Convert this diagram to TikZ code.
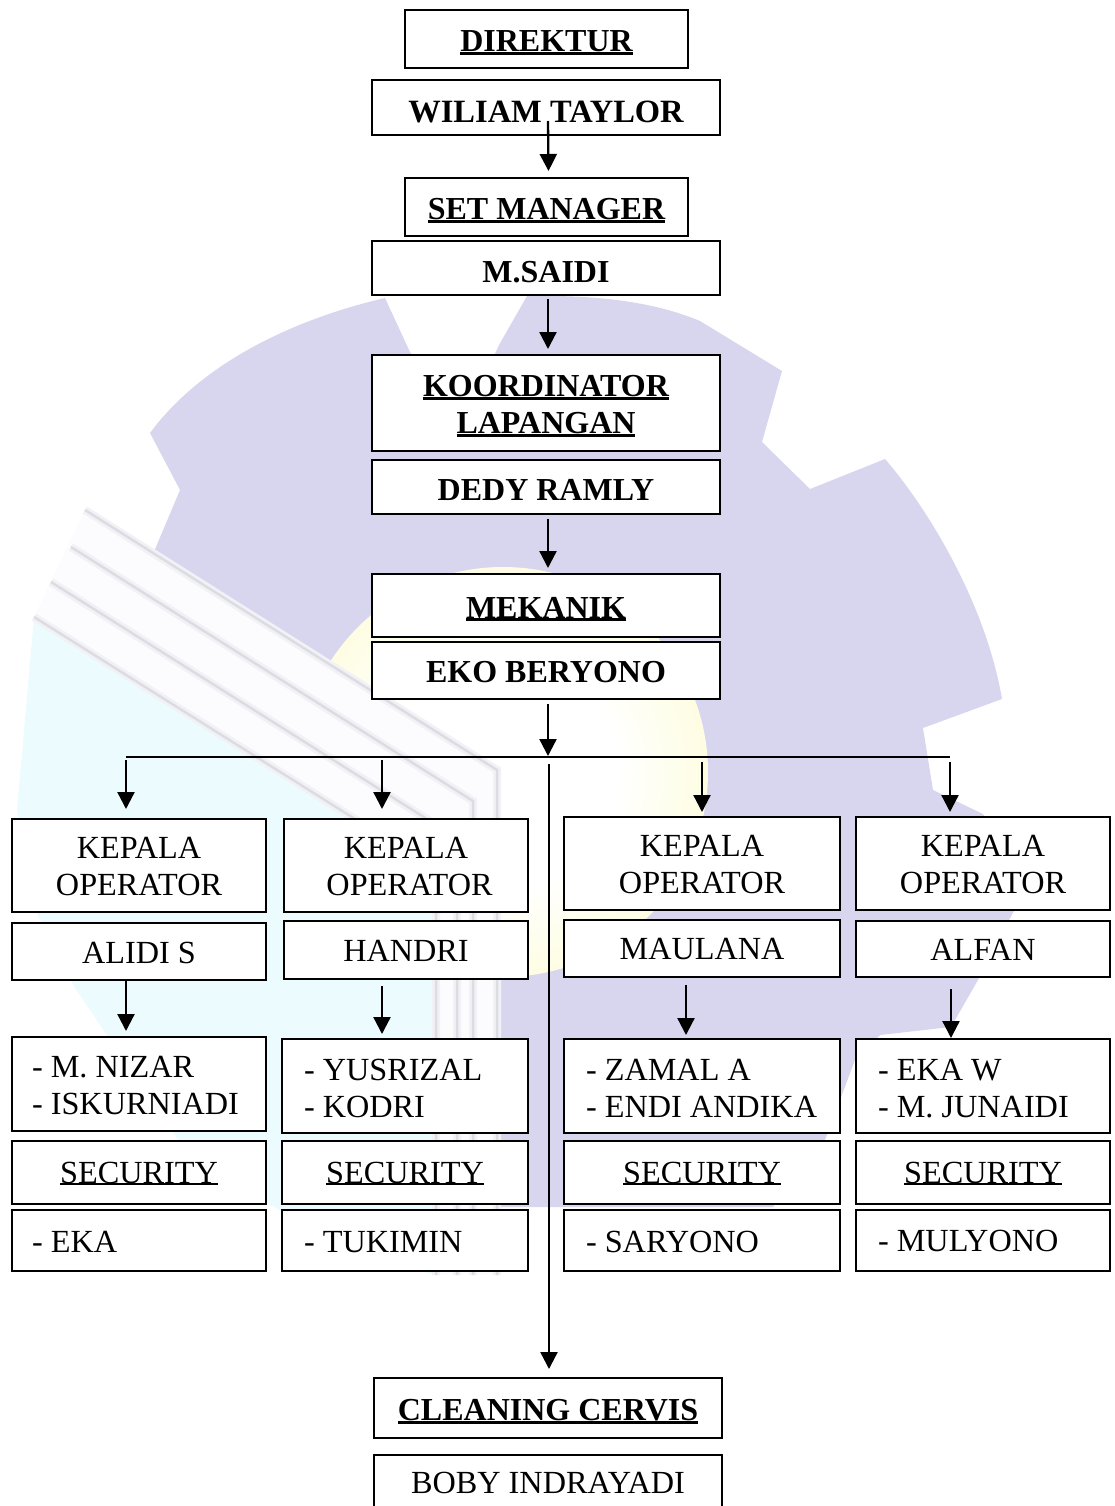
\documentclass[tikz,border=0pt]{standalone}
\usepackage{fontspec}
\setmainfont{Liberation Serif}
\usetikzlibrary{arrows.meta}
\definecolor{gearcol}{HTML}{D8D6EE}
\definecolor{sunyel}{HTML}{FDFBC6}
\definecolor{cyanpg}{HTML}{ECFCFE}
\definecolor{pagewh}{HTML}{FCFCFE}
\definecolor{pageln}{HTML}{DCDCE3}
\definecolor{pagehl}{HTML}{F1F1F6}
\pgfdeclareradialshading{sunring}{\pgfpoint{0bp}{0bp}}{color(0bp)=(white); color(14bp)=(white); color(36bp)=(sunyel); color(50bp)=(sunyel)}
\newcommand{\ulin}[2]{{\setbox0=\hbox{#2}\dimen0=\wd0 \box0\kern-\dimen0\smash{\rule[-#1]{\dimen0}{#1}}}}
\newcommand{\ulb}[1]{\ulin{3.2pt}{#1}}
\newcommand{\ulr}[1]{\ulin{2pt}{#1}}
% pushes the text of a box down by #1 pt
\newcommand{\dn}[1]{\rule{0pt}{\dimexpr 21.5pt+#1\dimexpr 2pt\relax\relax}}
\newcommand{\bd}{\fontsize{32}{37}\selectfont\bfseries}
\newcommand{\bdw}{\fontsize{32.5}{37}\selectfont\bfseries}
% name, x1, y1, x2, y2, text
\newcommand{\cbox}[6]{%
  \pgfmathsetmacro{\bw}{#4-#2}\pgfmathsetmacro{\bh}{#5-#3}%
  \node[orgbox,minimum width=\bw pt,minimum height=\bh pt] (#1) at ({(#2+#4)/2},{(#3+#5)/2}) {#6};}
\newcommand{\lbox}[7]{%
  \pgfmathsetmacro{\bw}{#4-#2-2*#6}\pgfmathsetmacro{\bh}{#5-#3}%
  \node[orgbox,align=flush left,inner xsep=#6 pt,text width=\bw pt,minimum height=\bh pt] (#1) at ({(#2+#4)/2},{(#3+#5)/2}) {#7};}
\tikzset{
  orgbox/.style={draw=black,fill=white,line width=2pt,inner ysep=0pt,inner xsep=0pt,align=flush center,font=\fontsize{32.25}{37}\selectfont},
  arr/.style={line width=2.3pt,-{Triangle[width=17pt,length=17pt]}},
  busline/.style={line width=2pt},
  bk/.style={color=pageln,line width=2.5pt},
  bkhalo/.style={color=pagehl,line width=8pt}
}
\begin{document}
\begin{tikzpicture}[x=1pt,y=-1pt]
\useasboundingbox (0,0) rectangle (1115,1506);
% watermark
\fill[gearcol] (153,554) -- (180,490) -- (150,433) .. controls (200,365) and (290,320) .. (385,298)
  -- (410,352) -- (420,365) -- (490,365) -- (499,345) -- (527,296)
  .. controls (590,295) and (650,300) .. (700,321) -- (782,371) -- (762,442) -- (810,489) -- (885,459)
  .. controls (925,505) and (985,600) .. (1002,699) -- (923,728) -- (933,790) -- (983,814)
  -- (1030,880) -- (978,980) -- (951,1027) -- (880,1035) -- (855,1060) -- (825,1140) -- (773,1207)
  -- (498,1207) -- (498,770) -- cycle;
\shade[shading=sunring] (503,772) circle[radius=205];
\fill[cyanpg] (34,617) -- (17,810) -- (30,900) -- (75,988) -- (178,1140) -- (271,1205) -- (350,1250) -- (435,1275) -- (435,870) -- cycle;
\fill[pagewh] (85,510) -- (497,770) -- (497,1275) -- (435,1275) -- (435,870) -- (34,617) -- cycle;
\foreach \ax/\ay/\vx/\vy in {85/510/497/770, 71/547/473/801, 51/582/457/838, 34/617/436/870}{
  \draw[bkhalo] (\ax,\ay) -- (\vx,\vy) -- (\vx,1275);
  \draw[bk] (\ax,\ay) -- (\vx,\vy) -- (\vx,1275);
}
% top chain
\cbox{dir}{405}{10}{688}{68}{\dn{2}\bd\ulb{DIREKTUR}}
\cbox{wt}{372}{80}{720}{135}{\dn{4}\bdw WILIAM TAYLOR}
\cbox{sm}{405}{178}{688}{236}{\dn{2}\bd\ulb{SET MANAGER}}
\cbox{ms}{372}{241}{720}{295}{\dn{4}\bd M.SAIDI}
\cbox{kl}{372}{355}{720}{451}{\dn{1.5}\bd\ulb{KOORDINATOR}\\\bd\ulb{LAPANGAN}}
\cbox{dr}{372}{460}{720}{514}{\dn{3}\bd DEDY RAMLY}
\cbox{mk}{372}{574}{720}{637}{\dn{2}\bd\ulb{MEKANIK}}
\cbox{eb}{372}{642}{720}{699}{\dn{1}\bd EKO BERYONO}
% column 1
\cbox{ka}{12}{819}{266}{912}{\dn{1}KEPALA\\OPERATOR}
\cbox{na}{12}{923}{266}{980}{\dn{1}ALIDI S}
\lbox{ma}{12}{1037}{266}{1131}{20}{\dn{1}- M. NIZAR\\- ISKURNIADI}
\cbox{sa}{12}{1141}{266}{1204}{\dn{0}\ulr{SECURITY}}
\lbox{ta}{12}{1210}{266}{1271}{20}{\dn{1}- EKA}
% column 2
\cbox{kb}{284}{819}{528}{912}{\dn{1}KEPALA\\\hspace*{7pt}OPERATOR}
\cbox{nb}{284}{921}{528}{979}{\dn{1}HANDRI}
\lbox{mb}{282}{1039}{528}{1133}{22}{\dn{2}- YUSRIZAL\\- KODRI}
\cbox{sb}{282}{1141}{528}{1204}{\dn{0}\ulr{SECURITY}}
\lbox{tb}{282}{1210}{528}{1271}{22}{\dn{1}- TUKIMIN}
% column 3
\cbox{kc}{564}{817}{840}{910}{\dn{1}KEPALA\\OPERATOR}
\cbox{nc}{564}{920}{840}{977}{\dn{0.5}MAULANA}
\lbox{mc}{564}{1039}{840}{1133}{22}{\dn{2}- ZAMAL A\\- ENDI ANDIKA}
\cbox{sc}{564}{1141}{840}{1204}{\dn{0}\ulr{SECURITY}}
\lbox{tc}{564}{1210}{840}{1271}{22}{\dn{1}- SARYONO}
% column 4
\cbox{kd}{856}{817}{1110}{910}{\dn{1}KEPALA\\OPERATOR}
\cbox{nd}{856}{921}{1110}{977}{\dn{1}ALFAN}
\lbox{md}{856}{1039}{1110}{1133}{22}{\dn{2}- EKA W\\- M. JUNAIDI}
\cbox{sd}{856}{1141}{1110}{1204}{\dn{0}\ulr{SECURITY}}
\lbox{td}{856}{1210}{1110}{1271}{22}{\dn{0.5}- MULYONO}
% bottom
\cbox{cc}{374}{1378}{722}{1438}{\dn{2}\bd\ulb{CLEANING CERVIS}}
\cbox{bi}{374}{1455}{722}{1531}{\raisebox{21pt}{BOBY INDRAYADI}}
% connectors
\coordinate (busL) at (126,757);
\coordinate (busR) at (950,757);
\coordinate (busM) at (549,764);
\draw[busline] (busL) -- (busR);
\draw[arr] ([shift={(2,-15)}]wt.south) -- ([shift={(2,-6)}]sm.north);
\draw[arr] ([shift={(2,3)}]ms.south) -- ([shift={(2,-5)}]kl.north);
\draw[arr] ([shift={(2,4)}]dr.south) -- ([shift={(2,-5)}]mk.north);
\draw[arr] ([shift={(2,4)}]eb.south) -- ++(0,52);
\draw[arr] ([shift={(0,3)}]busL) -- ([shift={(-13,-9)}]ka.north);
\draw[arr] ([shift={(382-126,3)}]busL) -- ([shift={(-24,-9)}]kb.north);
\draw[arr] ([shift={(702-950,5)}]busR) -- ([shift={(0,-4)}]kc.north);
\draw[arr] ([shift={(0,5)}]busR) -- ([shift={(-33,-4)}]kd.north);
\draw[arr] ([shift={(-13,0)}]na.south) -- ([shift={(-13,-5)}]ma.north);
\draw[arr] ([shift={(-24,6)}]nb.south) -- ([shift={(-23,-4)}]mb.north);
\draw[arr] ([shift={(-16,7)}]nc.south) -- ([shift={(-16,-3)}]mc.north);
\draw[arr] ([shift={(-32,11)}]nd.south) -- ([shift={(-32,0)}]md.north);
\draw[arr] (busM) -- ([shift={(1,-8)}]cc.north);
\end{tikzpicture}
\end{document}
